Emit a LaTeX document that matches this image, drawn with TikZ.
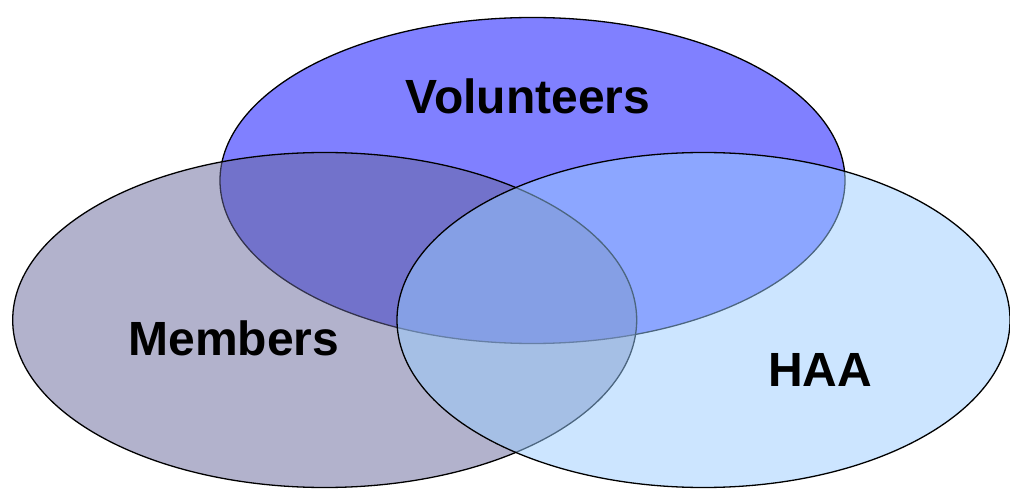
\documentclass[tikz,border=0pt]{standalone}
\usepackage{fontspec}
\setmainfont{Liberation Sans}
\definecolor{volc}{HTML}{8080FF}
\definecolor{memc}{HTML}{666699}
\definecolor{haac}{HTML}{99CCFF}
\begin{document}
\begin{tikzpicture}[x=1pt,y=-1pt,
  setshape/.style={draw=black,line width=1.3pt},
  lbl/.style={font=\fontsize{48}{57}\selectfont\bfseries}]
\useasboundingbox (0,0) rectangle (1010,489);
\path[setshape,fill=volc] (532.5,180.5) ellipse [x radius=312.5, y radius=163];
\path[setshape,fill=memc,fill opacity=0.5] (324.7,320) ellipse [x radius=312, y radius=167.5];
\path[setshape,fill=haac,fill opacity=0.5] (703.5,320) ellipse [x radius=306.5, y radius=167.5];
\node[lbl] (vol) at (528,96) {Volunteers};
\node[lbl] (mem) at (234,338) {Members};
\node[lbl] (haa) at (820,370) {HAA};
\end{tikzpicture}
\end{document}
